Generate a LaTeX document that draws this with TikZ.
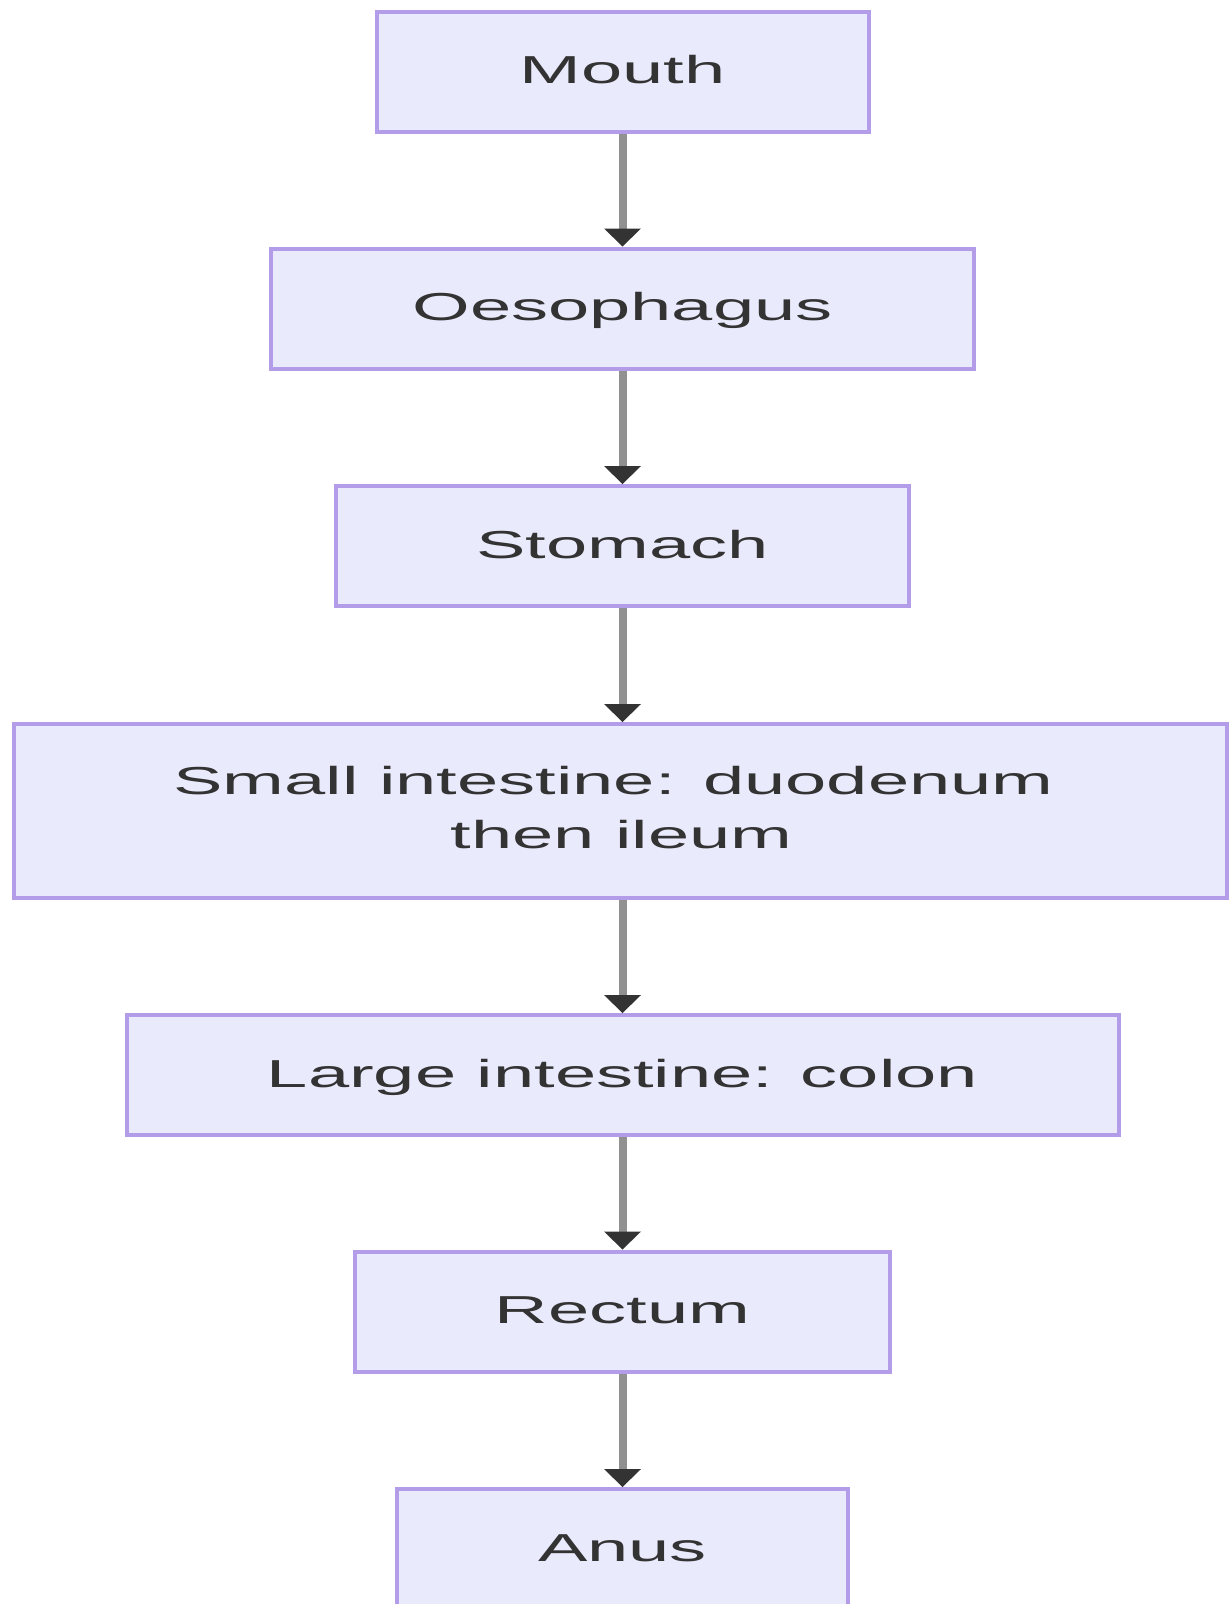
\documentclass[tikz,border=0pt]{standalone}
\usepackage{fontspec}
\usepackage{graphicx}
\setmainfont{Liberation Sans}
\usetikzlibrary{arrows.meta,calc}
\definecolor{boxfill}{HTML}{EAEAFD}
\definecolor{boxline}{HTML}{B49DE8}
\definecolor{shaft}{HTML}{919191}
\definecolor{tipc}{HTML}{333333}
\definecolor{txt}{HTML}{333333}
\newcommand{\widetxt}[1]{\scalebox{1.9}[1]{#1}}
\begin{document}
\begin{tikzpicture}[x=1pt,y=-1pt,
  organ/.style={draw=boxline, fill=boxfill, line width=4pt, inner sep=0pt, minimum height=120pt},
  lbl/.style={anchor=base, text=txt, font=\fontsize{39}{47}\selectfont, inner sep=0pt},
  flow/.style={draw=shaft, line width=8pt, -{Triangle[width=37pt,length=18pt,color=tipc,line width=0pt]}}]
\useasboundingbox (0,0) rectangle (1231,1604);
\fill[white] (0,0) rectangle (1231,1604);

\node[organ, minimum width=492pt] (mouth) at (622.5,71.5) {};
\node[lbl] (tmouth) at ($(mouth.center)+(0,12)$) {\widetxt{Mouth}};

\node[organ, minimum width=703pt] (oeso) at (622.5,308.5) {};
\node[lbl] (toeso) at ($(oeso.center)+(0,12)$) {\widetxt{Oesophagus}};

\node[organ, minimum width=573pt] (stom) at (622.5,546) {};
\node[lbl] (tstom) at ($(stom.center)+(0,12)$) {\widetxt{Stomach}};

\node[organ, minimum width=1213pt, minimum height=174pt] (small) at (620.5,811) {};
\node[lbl] (tsmall1) at ($(small.center)+(-7,-17)$) {\widetxt{Small intestine: duodenum}};
\node[lbl] (tsmall2) at ($(small.center)+(1,37)$) {\widetxt{then ileum}};

\node[organ, minimum width=992pt] (large) at (622.5,1075) {};
\node[lbl] (tlarge) at ($(large.center)+(0,12)$) {\widetxt{Large intestine: colon}};

\node[organ, minimum width=535pt] (rect) at (622.5,1311.5) {};
\node[lbl] (trect) at ($(rect.center)+(0,12)$) {\widetxt{Rectum}};

\node[organ, minimum width=451pt] (anus) at (622.5,1549) {};
\node[lbl] (tanus) at ($(anus.center)+(0,12)$) {\widetxt{Anus}};

\draw[flow] (mouth.south) -- (oeso.north);
\draw[flow] (oeso.south) -- (stom.north);
\draw[flow] (stom.south) -- (stom.south |- small.north);
\draw[flow] (large.north |- small.south) -- (large.north);
\draw[flow] (large.south) -- (rect.north);
\draw[flow] (rect.south) -- (anus.north);
\end{tikzpicture}
\end{document}
